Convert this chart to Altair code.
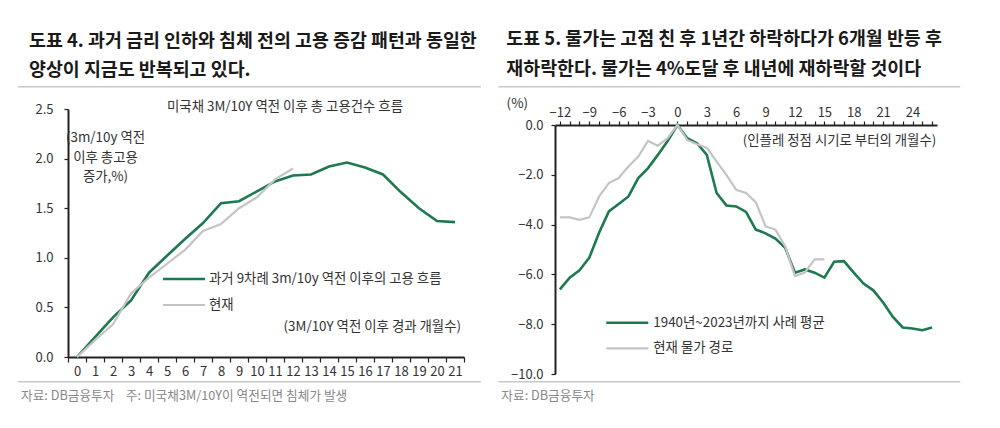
import altair as alt
import pandas as pd

FONT = "Noto Sans CJK KR"
GREEN = "#1d7a4e"
GRAY = "#c4c4c4"
AXIS = "#222222"
TXT = "#333333"
FOOT = "#888888"
RULE = "#c8c8c8"
NB = "\u00a0"

# ---------------- Left chart data ----------------
emp_months = list(range(0, 22))
emp_past = [0.0, 0.20, 0.40, 0.57, 0.85, 1.02, 1.19, 1.35, 1.55, 1.57, 1.67,
            1.77, 1.83, 1.84, 1.92, 1.96, 1.91, 1.84, 1.66, 1.50, 1.37, 1.36]
emp_now_months = list(range(0, 13))
emp_now = [0.0, 0.17, 0.33, 0.64, 0.80, 0.94, 1.08, 1.27, 1.34, 1.50, 1.61, 1.79, 1.90]
emp_yticks = [0.0, 0.5, 1.0, 1.5, 2.0, 2.5]

# ---------------- Right chart data ----------------
cpi_months = list(range(-12, 27))
cpi_avg = [-6.60, -6.13, -5.84, -5.33, -4.33, -3.47, -3.17, -2.87, -2.13, -1.73,
           -1.20, -0.64, 0.00, -0.53, -0.73, -1.20, -2.73, -3.23, -3.27, -3.49,
           -4.20, -4.35, -4.56, -4.93, -5.93, -5.80, -5.93, -6.13, -5.49, -5.47,
           -5.93, -6.37, -6.64, -7.13, -7.71, -8.13, -8.17, -8.24, -8.13]
cpi_now_months = list(range(-12, 16))
cpi_now = [-3.71, -3.71, -3.81, -3.71, -2.87, -2.33, -2.13, -1.67, -1.27, -0.64,
           -0.83, -0.53, 0.00, -0.60, -0.77, -0.91, -1.47, -2.00, -2.60, -2.73,
           -3.10, -4.07, -4.20, -4.87, -6.07, -5.93, -5.40, -5.40]
cpi_yticks = [-10, -8, -6, -4, -2, 0]

# ---------------- Texts ----------------
L_TITLE1 = "도표 4. 과거 금리 인하와 침체 전의 고용 증감 패턴과 동일한"
L_TITLE2 = "양상이 지금도 반복되고 있다."
L_INNER = "미국채 3M/10Y 역전 이후 총 고용건수 흐름"
L_YTITLE = ["(3m/10y 역전", "이후 총고용", "증가,%)"]
L_XTITLE = "(3M/10Y 역전 이후 경과 개월수)"
L_LEG1 = "과거 9차례 3m/10y 역전 이후의 고용 흐름"
L_LEG2 = "현재"
L_FOOT = "자료: DB금융투자" + NB * 4 + "주: 미국채3M/10Y이 역전되면 침체가 발생"

R_TITLE1 = "도표 5. 물가는 고점 친 후 1년간 하락하다가 6개월 반등 후"
R_TITLE2 = "재하락한다. 물가는 4%도달 후 내년에 재하락할 것이다"
R_UNIT = "(%)"
R_XTITLE = "(인플레 정점 시기로 부터의 개월수)"
R_LEG1 = "1940년~2023년까지 사례 평균"
R_LEG2 = "현재 물가 경로"
R_FOOT = "자료: DB금융투자"

TS = 18.4   # title size
SS = 13.4   # small text size
FS = 12.7   # footer size


def txt(s, x, y, size=SS, color=TXT, align="left", weight="normal", baseline="middle", line_height=None):
    kw = dict(align=align, baseline=baseline, font=FONT, fontSize=size,
              color=color, fontWeight=weight)
    if line_height is not None:
        kw["lineHeight"] = line_height
    if isinstance(s, list):
        return alt.Chart(pd.DataFrame({"k": [0]})).mark_text(text=s, **kw).encode(
            x=alt.value(x), y=alt.value(y))
    return alt.Chart(pd.DataFrame({"t": [s]})).mark_text(**kw).encode(
        x=alt.value(x), y=alt.value(y), text="t:N")


def hrule(x1, x2, y, color=RULE, width=1.5):
    return alt.Chart(pd.DataFrame({"k": [0]})).mark_rule(color=color, strokeWidth=width).encode(
        x=alt.value(x1), x2=alt.value(x2), y=alt.value(y))


axis_common = dict(domainColor=AXIS, domainWidth=2, tickColor=AXIS, tickWidth=1.2,
                   labelFont=FONT, labelFontSize=13, labelColor=TXT, grid=False,
                   title=None)

# ---------------- Left panel ----------------
LW, LH = 396, 248
lx = alt.X("m:O", bandPosition=0.5,
           scale=alt.Scale(type="band", domain=emp_months, paddingInner=0, paddingOuter=0),
           axis=alt.Axis(orient="bottom", tickBand="extent", tickSize=5, labelAngle=0,
                         labelOverlap=False, labelPadding=3, **axis_common))
ly = alt.Y("v:Q", scale=alt.Scale(domain=[0, 2.5], nice=False),
           axis=alt.Axis(values=emp_yticks, format=".1f", tickSize=4, labelPadding=11,
                         **axis_common))

left_past = alt.Chart(pd.DataFrame({"m": emp_months, "v": emp_past})).mark_line(
    color=GREEN, strokeWidth=2.6).encode(x=lx, y=ly)
left_now = alt.Chart(pd.DataFrame({"m": emp_now_months, "v": emp_now})).mark_line(
    color=GRAY, strokeWidth=2.2).encode(x=lx, y=ly)

left = alt.layer(
    left_past, left_now,
    txt(L_TITLE1, -39, -68, size=TS, color="#1a1a1a", weight="bold"),
    txt(L_TITLE2, -39, -39, size=TS, color="#1a1a1a", weight="bold"),
    hrule(-50, 413, -22.3),
    txt(L_INNER, 217, -2, align="center"),
    txt(L_YTITLE, 37.5, 29.3, align="center", line_height=19.5),
    txt(L_XTITLE, 393, 218, align="right"),
    hrule(95, 137, 170, color=GREEN, width=2.6),
    txt(L_LEG1, 141, 170),
    hrule(95, 137, 196, color=GRAY, width=2.2),
    txt(L_LEG2, 141, 196),
    hrule(-50, 413, 272.7),
    txt(L_FOOT, -47, 287, size=FS, color=FOOT),
).properties(width=LW, height=LH)

# ---------------- Right panel ----------------
# view origin shares the left panel's top (page y 109); the plotting range starts 16px lower
o = 16
RW, RH = 382, 265
rx = alt.X("m:Q", scale=alt.Scale(domain=[-12.5, 26.5], nice=False, zero=False),
           axis=alt.Axis(orient="top", values=cpi_months, offset=-o,
                         labelExpr="datum.value % 3 == 0 ? datum.label : ''",
                         labelOverlap=False, labelFlush=False, tickSize=4, labelPadding=2,
                         **axis_common))
ry = alt.Y("v:Q", scale=alt.Scale(domain=[-10, 0], nice=False, range=[RH, o]),
           axis=alt.Axis(values=cpi_yticks, format=".1f", tickSize=4, labelPadding=8,
                         **axis_common))

right_avg = alt.Chart(pd.DataFrame({"m": cpi_months, "v": cpi_avg})).mark_line(
    color=GREEN, strokeWidth=2.6).encode(x=rx, y=ry)
right_now = alt.Chart(pd.DataFrame({"m": cpi_now_months, "v": cpi_now})).mark_line(
    color=GRAY, strokeWidth=2.2).encode(x=rx, y=ry)

right = alt.layer(
    right_avg, right_now,
    txt(R_TITLE1, -48.7, -70, size=TS, color="#1a1a1a", weight="bold"),
    txt(R_TITLE2, -48.7, -40.5, size=TS, color="#1a1a1a", weight="bold"),
    hrule(-56.7, 405.3, -38.3 + o),
    txt(R_UNIT, -37.7, -21 + o, align="center"),
    txt(R_XTITLE, 381.3, 15.7 + o, align="right"),
    hrule(51.3, 93.3, 197.7 + o, color=GREEN, width=2.6),
    txt(R_LEG1, 98.3, 197.7 + o),
    hrule(51.3, 93.3, 223.3 + o, color=GRAY, width=2.2),
    txt(R_LEG2, 98.3, 223.3 + o),
    hrule(-56.7, 405.3, 256.7 + o),
    txt(R_FOOT, -53.7, 271 + o, size=FS, color=FOOT),
).properties(width=RW, height=RH)

chart = alt.hconcat(left, right, spacing=15).properties(
    padding={"left": 9, "top": 22, "right": 5, "bottom": 5}
).configure_view(stroke=None)

chart.save("out.html", embed_options={"renderer": "svg", "actions": False})
